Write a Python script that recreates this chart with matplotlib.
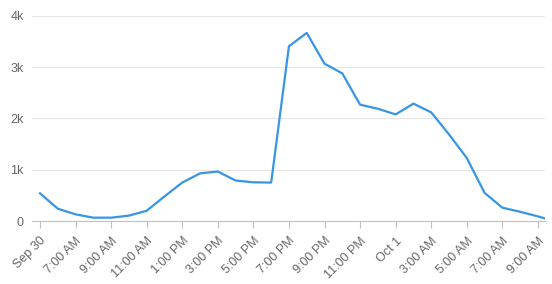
import matplotlib.pyplot as plt

# hours since the first point (Sep 30, first tick), one point per hour
hours = list(range(29)) + [28.4]
views = [540, 240, 130, 65, 65, 105, 200, 480, 750, 930, 965, 790, 755, 750,
         3410, 3670, 3070, 2880, 2270, 2190, 2080, 2290, 2120, 1690, 1230,
         550, 260, 180, 90, 50]

tick_hours = [0, 2, 4, 6, 8, 10, 12, 14, 16, 18, 20, 22, 24, 26, 28]
tick_labels = ["Sep 30", "7:00 AM", "9:00 AM", "11:00 AM", "1:00 PM", "3:00 PM",
               "5:00 PM", "7:00 PM", "9:00 PM", "11:00 PM", "Oct 1", "3:00 AM",
               "5:00 AM", "7:00 AM", "9:00 AM"]
y_ticks = [0, 1000, 2000, 3000, 4000]
y_labels = ["0", "1k", "2k", "3k", "4k"]

plt.rcParams["font.family"] = ["Liberation Sans", "DejaVu Sans"]

fig = plt.figure(figsize=(5.52, 2.84), dpi=100)
ax = fig.add_axes([32 / 552, 1 - 221 / 284, 513 / 552, 205 / 284])

ax.plot(hours, views, color="#3795e8", lw=1.6, solid_joinstyle="round")

ax.set_xlim(-0.45, 28.4)
ax.set_ylim(0, 4000)
ax.set_yticks(y_ticks)
ax.set_yticklabels(y_labels)
ax.set_xticks(tick_hours)
ax.set_xticklabels(tick_labels, rotation=45, ha="right", va="top",
                   rotation_mode="anchor")

ax.grid(axis="y", color="#e6e6e6", lw=0.8)
ax.set_axisbelow(True)
for s in ["top", "right", "left"]:
    ax.spines[s].set_visible(False)
ax.spines["bottom"].set_color("#c0c0c0")
ax.tick_params(axis="x", colors="#c0c0c0", length=5, width=0.8, labelcolor="#666666",
               labelsize=9, pad=5)
ax.tick_params(axis="y", length=0, labelcolor="#666666", labelsize=9, pad=6)

fig.savefig("out.png", dpi=100)
